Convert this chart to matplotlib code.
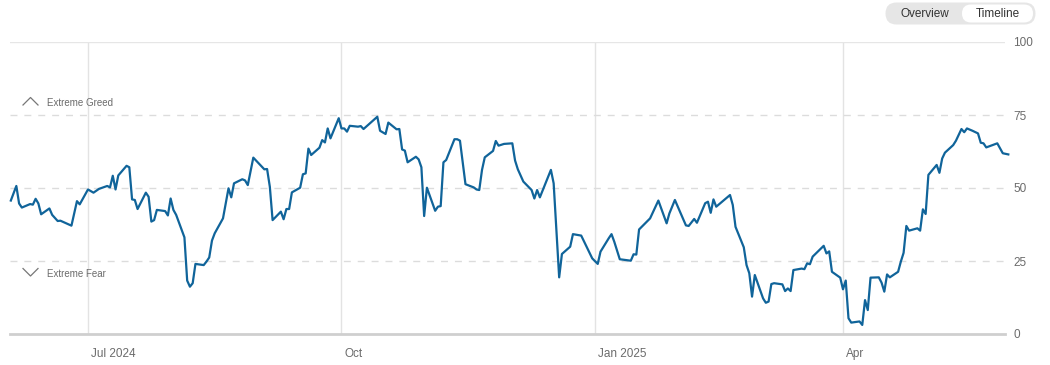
import matplotlib.pyplot as plt
import pandas as pd
from matplotlib.patches import FancyBboxPatch
from matplotlib.transforms import ScaledTranslation

plt.rcParams["font.family"] = ["Liberation Sans", "DejaVu Sans"]

# Fear & Greed index readings
dates = [
    "2024-06-03", "2024-06-05", "2024-06-06", "2024-06-07", "2024-06-10", "2024-06-11",
    "2024-06-12", "2024-06-13", "2024-06-14", "2024-06-17", "2024-06-18", "2024-06-20",
    "2024-06-21", "2024-06-25", "2024-06-27", "2024-06-28", "2024-07-01", "2024-07-03",
    "2024-07-05", "2024-07-08", "2024-07-09", "2024-07-10", "2024-07-11", "2024-07-12",
    "2024-07-15", "2024-07-16", "2024-07-17", "2024-07-18", "2024-07-19", "2024-07-22",
    "2024-07-23", "2024-07-24", "2024-07-25", "2024-07-26", "2024-07-29", "2024-07-30",
    "2024-07-31", "2024-08-01", "2024-08-02", "2024-08-05", "2024-08-06", "2024-08-07",
    "2024-08-08", "2024-08-09", "2024-08-12", "2024-08-13", "2024-08-14", "2024-08-15",
    "2024-08-16", "2024-08-19", "2024-08-21", "2024-08-22", "2024-08-23", "2024-08-26",
    "2024-08-27", "2024-08-28", "2024-08-30", "2024-09-03", "2024-09-04", "2024-09-05",
    "2024-09-06", "2024-09-09", "2024-09-10", "2024-09-11", "2024-09-12", "2024-09-13",
    "2024-09-16", "2024-09-17", "2024-09-18", "2024-09-19", "2024-09-20", "2024-09-23",
    "2024-09-24", "2024-09-25", "2024-09-26", "2024-09-27", "2024-09-30", "2024-10-01",
    "2024-10-02", "2024-10-03", "2024-10-04", "2024-10-07", "2024-10-08", "2024-10-09",
    "2024-10-14", "2024-10-15", "2024-10-17", "2024-10-18", "2024-10-21", "2024-10-22",
    "2024-10-23", "2024-10-24", "2024-10-25", "2024-10-28", "2024-10-29", "2024-10-30",
    "2024-10-31", "2024-11-01", "2024-11-04", "2024-11-05", "2024-11-06", "2024-11-07",
    "2024-11-08", "2024-11-11", "2024-11-12", "2024-11-13", "2024-11-15", "2024-11-18",
    "2024-11-19", "2024-11-20", "2024-11-21", "2024-11-22", "2024-11-25", "2024-11-26",
    "2024-11-27", "2024-11-29", "2024-12-02", "2024-12-03", "2024-12-04", "2024-12-06",
    "2024-12-09", "2024-12-10", "2024-12-11", "2024-12-12", "2024-12-16", "2024-12-17",
    "2024-12-19", "2024-12-20", "2024-12-23", "2024-12-24", "2024-12-27", "2024-12-31",
    "2025-01-02", "2025-01-03", "2025-01-06", "2025-01-07", "2025-01-08", "2025-01-10",
    "2025-01-14", "2025-01-15", "2025-01-16", "2025-01-17", "2025-01-21", "2025-01-24",
    "2025-01-27", "2025-01-28", "2025-01-30", "2025-02-03", "2025-02-04", "2025-02-06",
    "2025-02-07", "2025-02-10", "2025-02-11", "2025-02-12", "2025-02-13", "2025-02-14",
    "2025-02-19", "2025-02-20", "2025-02-21", "2025-02-24", "2025-02-25", "2025-02-26",
    "2025-02-27", "2025-02-28", "2025-03-03", "2025-03-04", "2025-03-05", "2025-03-06",
    "2025-03-07", "2025-03-10", "2025-03-11", "2025-03-12", "2025-03-13", "2025-03-14",
    "2025-03-17", "2025-03-18", "2025-03-19", "2025-03-20", "2025-03-21", "2025-03-24",
    "2025-03-25", "2025-03-26", "2025-03-27", "2025-03-28", "2025-03-31", "2025-04-01",
    "2025-04-02", "2025-04-03", "2025-04-04", "2025-04-07", "2025-04-08", "2025-04-09",
    "2025-04-10", "2025-04-11", "2025-04-14", "2025-04-15", "2025-04-16", "2025-04-17",
    "2025-04-18", "2025-04-21", "2025-04-22", "2025-04-23", "2025-04-24", "2025-04-25",
    "2025-04-28", "2025-04-29", "2025-04-30", "2025-05-01", "2025-05-02", "2025-05-05",
    "2025-05-06", "2025-05-07", "2025-05-08", "2025-05-11", "2025-05-12", "2025-05-14",
    "2025-05-15", "2025-05-16", "2025-05-18", "2025-05-20", "2025-05-21", "2025-05-22",
    "2025-05-23", "2025-05-27", "2025-05-29", "2025-05-31",
]
values = [
    45.7, 50.7, 44.7, 43.3, 44.5, 44.3,
    46.3, 44.7, 41.0, 43.0, 40.8, 38.7,
    38.8, 37.1, 45.5, 44.4, 49.5, 48.4,
    49.7, 50.7, 50.2, 54.2, 49.5, 54.3,
    57.6, 57.1, 46.1, 45.9, 42.8, 48.4,
    47.0, 38.5, 39.0, 42.5, 42.1, 40.6,
    46.4, 42.5, 40.8, 33.1, 18.3, 16.2,
    17.4, 24.0, 23.6, 24.8, 26.2, 32.0,
    34.5, 39.6, 49.9, 46.8, 51.6, 53.0,
    52.6, 51.0, 60.4, 56.4, 56.5, 50.4,
    39.0, 41.9, 39.3, 42.8, 42.8, 48.5,
    50.1, 54.7, 55.0, 63.5, 61.3, 63.8,
    66.4, 65.6, 70.4, 67.0, 73.9, 70.4,
    70.4, 69.3, 71.3, 71.0, 71.2, 70.2,
    74.4, 69.6, 68.5, 72.4, 70.1, 70.2,
    63.2, 62.8, 58.8, 60.7, 59.8, 57.1,
    40.4, 50.1, 42.2, 43.6, 43.8, 58.8,
    59.6, 66.7, 66.7, 66.2, 51.3, 50.2,
    49.5, 49.3, 56.2, 60.5, 62.7, 66.1,
    64.5, 65.1, 65.3, 59.4, 56.4, 52.2,
    49.3, 46.4, 49.3, 46.8, 56.2, 51.6,
    19.4, 27.4, 29.9, 34.2, 33.7, 25.9,
    24.0, 28.2, 32.8, 34.2, 31.6, 25.6,
    25.1, 27.3, 27.2, 35.8, 39.6, 45.7,
    37.9, 41.3, 45.9, 37.2, 37.0, 39.4,
    38.1, 44.8, 45.3, 41.5, 46.1, 43.6,
    47.6, 44.2, 36.7, 29.7, 23.6, 20.8,
    12.8, 20.2, 12.2, 10.7, 11.1, 17.1,
    17.4, 17.0, 14.7, 15.6, 14.7, 21.9,
    22.4, 22.2, 24.2, 23.9, 26.5, 29.3,
    30.2, 27.6, 28.3, 21.3, 19.3, 15.3,
    18.3, 5.4, 3.9, 4.3, 3.1, 11.6,
    8.2, 19.3, 19.4, 17.6, 14.5, 20.4,
    19.4, 21.3, 24.8, 27.8, 37.0, 35.4,
    36.2, 35.4, 42.7, 41.1, 54.5, 57.9,
    55.2, 60.1, 62.1, 64.7, 66.2, 70.2,
    69.1, 70.4, 69.6, 68.7, 65.5, 65.3,
    63.9, 65.3, 61.9, 61.5,
]

month_ticks = ["2024-07-01", "2024-10-01", "2025-01-01", "2025-04-01"]
month_labels = ["Jul 2024", "Oct", "Jan 2025", "Apr"]
y_ticks = [0, 25, 50, 75, 100]

dates = pd.to_datetime(dates)
month_ticks = pd.to_datetime(month_ticks)

W, H = 1050, 365
fig = plt.figure(figsize=(W / 100, H / 100), dpi=100)
ax = fig.add_axes([10 / W, (H - 334) / H, 995 / W, 292 / H])

grid_c = "#e3e3e3"
text_c = "#6b6b6b"
line_c = "#10649a"

# vertical month lines
for d in month_ticks:
    ax.axvline(d, color=grid_c, lw=1, zorder=0)

# horizontal guides
for v in [25, 50, 75]:
    ax.axhline(v, color="#dcdcdc", lw=1, ls=(0, (5, 5)), zorder=0)
ax.axhline(100, color="#e6e6e6", lw=1, zorder=0)
ax.axhline(0, color="#cfcfcf", lw=2, zorder=1, clip_on=False)

ax.plot(dates, values, color=line_c, lw=1.6, solid_joinstyle="round", zorder=3,
        clip_on=False)

ax.set_xlim(pd.Timestamp("2024-07-01") - pd.Timedelta(days=28.3),
            pd.Timestamp("2025-04-01") + pd.Timedelta(days=58.8))
ax.set_ylim(0, 100)

for s in ax.spines.values():
    s.set_visible(False)

ax.set_xticks(month_ticks)
ax.set_xticklabels(month_labels)
ax.tick_params(axis="x", length=0, pad=10, labelsize=8.5, labelcolor=text_c)
for lab in ax.get_xticklabels():
    lab.set_horizontalalignment("left")
    lab.set_transform(lab.get_transform() + ScaledTranslation(3 / 100, 0, fig.dpi_scale_trans))

ax.yaxis.tick_right()
ax.set_yticks(y_ticks)
ax.tick_params(axis="y", length=0, pad=6, labelsize=8.5, labelcolor=text_c)

# zone labels with chevrons
fig.text(47 / W, (H - 103) / H, "Extreme Greed", fontsize=7, color=text_c, va="center")
fig.text(47 / W, (H - 274) / H, "Extreme Fear", fontsize=7, color=text_c, va="center")
fig.add_artist(plt.Line2D([23 / W, 30.5 / W, 38 / W],
                          [(H - 105) / H, (H - 97.5) / H, (H - 105) / H],
                          color="#777777", lw=0.9))
fig.add_artist(plt.Line2D([23 / W, 30.5 / W, 38 / W],
                          [(H - 268.5) / H, (H - 276) / H, (H - 268.5) / H],
                          color="#777777", lw=0.9))

# Overview / Timeline toggle
tog = fig.add_axes([885 / W, (H - 25) / H, 151 / W, 23 / H])
tog.set_xlim(0, 151)
tog.set_ylim(0, 23)
tog.axis("off")
tog.add_patch(FancyBboxPatch((0.5, 0.5), 150, 22, boxstyle="round,pad=0,rounding_size=11",
                             fc="#e6e6e6", ec="none"))
tog.add_patch(FancyBboxPatch((77, 2.5), 71, 18, boxstyle="round,pad=0,rounding_size=9",
                             fc="white", ec="none"))
tog.text(40, 11.5, "Overview", ha="center", va="center", fontsize=8.5, color="#333333")
tog.text(112.5, 11.5, "Timeline", ha="center", va="center", fontsize=8.5, color="#333333")

fig.savefig("out.png", dpi=100)
